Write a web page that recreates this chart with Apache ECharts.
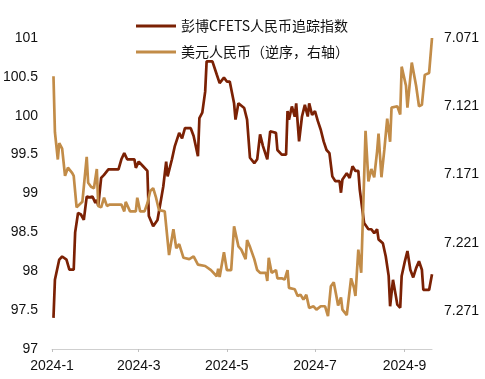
<!DOCTYPE html>
<html>
<head>
<meta charset="utf-8">
<script src="https://cdn.jsdelivr.net/npm/echarts@6/dist/echarts.min.js"></script>
<style>
html,body{margin:0;padding:0;background:#fff;}
#chart{width:485px;height:379px;}
</style>
</head>
<body>
<div id="chart"></div>
<script>
// Series names
var seriesNames = ['彭博CFETS人民币追踪指数', '美元人民币（逆序，右轴）'];

// 彭博CFETS人民币追踪指数 (left axis), [MM-DD, value], year 2024
var cfetsData = [
['01-02',97.40],['01-03',97.89],['01-06',98.15],['01-08',98.19],['01-11',98.15],['01-13',98.02],
['01-16',98.02],['01-17',98.50],['01-19',98.75],['01-21',98.73],['01-23',98.66],['01-25',98.96],
['01-27',98.95],['01-29',98.96],['01-31',98.88],['02-01',98.92],['02-02',98.84],['02-04',99.20],
['02-06',99.24],['02-09',99.31],['02-16',99.31],['02-18',99.44],['02-20',99.52],['02-22',99.44],
['02-27',99.44],['02-28',99.33],['03-01',99.41],['03-04',99.35],['03-07',99.29],['03-08',98.71],
['03-11',98.58],['03-12',98.58],['03-14',98.66],['03-18',99.09],['03-20',99.41],['03-21',99.22],
['03-24',99.44],['03-26',99.61],['03-29',99.78],['03-31',99.71],['04-02',99.84],['04-06',99.84],
['04-08',99.74],['04-11',99.48],['04-12',99.97],['04-14',100.04],['04-16',100.31],['04-17',100.70],
['04-18',100.72],['04-21',100.70],['04-22',100.70],['04-24',100.53],['04-26',100.42],['04-29',100.49],
['05-01',100.44],['05-03',100.44],['05-06',100.16],['05-07',99.95],['05-09',100.16],['05-13',100.10],
['05-15',99.95],['05-17',99.46],['05-20',99.39],['05-22',99.44],['05-24',99.76],['05-26',99.61],
['05-29',99.44],['05-31',99.80],['06-04',99.78],['06-05',99.56],['06-08',99.50],['06-11',99.50],
['06-12',100.06],['06-13',99.95],['06-15',100.12],['06-17',99.99],['06-18',100.16],['06-20',99.67],
['06-22',99.99],['06-24',100.14],['06-26',99.99],['06-27',100.16],['06-29',100.01],['07-01',100.06],
['07-03',99.93],['07-05',99.82],['07-07',99.67],['07-09',99.56],['07-11',99.52],['07-13',99.22],
['07-15',99.16],['07-18',99.16],['07-19',99.01],['07-20',99.18],['07-23',99.26],['07-25',99.20],
['07-27',99.35],['07-29',99.29],['07-31',99.29],['08-01',99.05],['08-04',98.62],['08-07',98.54],
['08-09',98.54],['08-11',98.49],['08-13',98.54],['08-14',98.41],['08-17',98.36],['08-19',98.19],
['08-21',97.94],['08-22',97.55],['08-24',97.89],['08-26',97.68],['08-27',97.57],['08-29',97.53],
['08-30',97.94],['09-01',98.11],['09-03',98.26],['09-05',98.02],['09-07',97.92],['09-09',98.04],
['09-11',98.13],['09-13',98.02],['09-14',97.76],['09-18',97.76],['09-19',97.74],['09-20',97.96]
];

// 美元人民币 (right axis, inverted), [MM-DD, value]
var usdData = [
['01-02',7.099],['01-03',7.140],['01-05',7.160],['01-06',7.148],['01-08',7.152],['01-10',7.172],
['01-12',7.166],['01-15',7.170],['01-16',7.172],['01-18',7.195],['01-20',7.193],['01-22',7.191],
['01-25',7.158],['01-26',7.177],['01-28',7.180],['01-30',7.181],['02-01',7.167],['02-02',7.194],
['02-04',7.195],['02-06',7.188],['02-08',7.194],['02-10',7.193],['02-18',7.193],['02-20',7.198],
['02-21',7.191],['02-24',7.198],['02-28',7.198],['02-29',7.188],['03-02',7.198],['03-05',7.198],
['03-07',7.192],['03-09',7.183],['03-11',7.181],['03-13',7.188],['03-15',7.197],['03-19',7.198],
['03-20',7.199],['03-22',7.230],['03-25',7.211],['03-27',7.225],['03-29',7.222],['04-01',7.232],
['04-05',7.233],['04-08',7.231],['04-11',7.237],['04-16',7.238],['04-20',7.241],['04-24',7.2455],
['04-25',7.240],['04-26',7.246],['04-29',7.228],['05-01',7.241],['05-04',7.241],['05-06',7.209],
['05-09',7.2236],['05-11',7.226],['05-14',7.233],['05-15',7.219],['05-17',7.224],['05-20',7.233],
['05-22',7.241],['05-24',7.243],['05-28',7.243],['05-29',7.249],['05-30',7.232],['06-01',7.243],
['06-04',7.241],['06-05',7.247],['06-08',7.247],['06-10',7.248],['06-12',7.241],['06-13',7.254],
['06-17',7.255],['06-19',7.260],['06-21',7.259],['06-23',7.2626],['06-25',7.259],['06-27',7.2687],
['06-30',7.2675],['07-02',7.270],['07-05',7.2675],['07-08',7.2675],['07-10',7.2748],['07-12',7.2528],
['07-14',7.250],['07-16',7.261],['07-17',7.267],['07-19',7.261],['07-20',7.270],['07-23',7.274],
['07-24',7.275],['07-26',7.247],['07-28',7.254],['07-29',7.260],['07-31',7.226],['08-02',7.243],
['08-05',7.139],['08-07',7.176],['08-09',7.167],['08-11',7.173],['08-13',7.154],['08-14',7.141],
['08-16',7.173],['08-18',7.153],['08-20',7.130],['08-22',7.147],['08-23',7.122],['08-27',7.121],
['08-29',7.127],['08-30',7.092],['09-02',7.106],['09-03',7.122],['09-06',7.089],['09-09',7.106],
['09-11',7.121],['09-13',7.120],['09-15',7.098],['09-18',7.0966],['09-20',7.071]
];

// X axis label positions (month starts)
var xTickDates = ['01-01','03-01','05-01','07-01','09-01'];
var xRange = ['01-01','09-20'];
var leftAxisRange = [97, 101, 0.5];
var rightAxisRange = [7.071, 7.2988, 0.05];

function ts(md){ var p = md.split('-'); return Date.UTC(2024, +p[0]-1, +p[1]); }
function toSeries(arr){ return arr.map(function(d){ return [ts(d[0]), d[1]]; }); }

var chart = echarts.init(document.getElementById('chart'));
var labelFont = 'Liberation Sans, Arial, sans-serif';
var tickTs = xTickDates.map(ts);

chart.setOption({
  animation: false,
  backgroundColor: '#fff',
  grid: { left: 52, right: 53, top: 38, bottom: 30, containLabel: false },
  legend: {
    orient: 'vertical', left: 131, top: 14,
    itemWidth: 40, itemHeight: 3, itemGap: 12, icon: 'rect',
    textStyle: { fontFamily: 'Noto Sans CJK SC', fontSize: 14, color: '#111', lineHeight: 14 },
    data: seriesNames
  },
  xAxis: {
    type: 'value',
    min: ts(xRange[0]), max: ts(xRange[1]),
    splitLine: { show: false },
    axisLine: { show: true, lineStyle: { color: '#cfcfcf', width: 1 } },
    axisTick: { show: true, length: 3, lineStyle: { color: '#bfbfbf' }, customValues: tickTs },
    axisLabel: {
      customValues: tickTs,
      margin: 10,
      fontFamily: labelFont, fontSize: 14, color: '#111',
      formatter: function(v){ var d = new Date(v); return d.getUTCFullYear() + '-' + (d.getUTCMonth()+1); }
    }
  },
  yAxis: [
    {
      type: 'value', min: leftAxisRange[0], max: leftAxisRange[1], interval: leftAxisRange[2],
      splitLine: { show: false }, axisLine: { show: false }, axisTick: { show: false },
      axisLabel: { margin: 14, fontFamily: labelFont, fontSize: 14, color: '#111' }
    },
    {
      type: 'value', inverse: true,
      min: rightAxisRange[0], max: rightAxisRange[1], interval: rightAxisRange[2],
      splitLine: { show: false }, axisLine: { show: false }, axisTick: { show: false },
      axisLabel: {
        margin: 12, showMaxLabel: false, fontFamily: labelFont, fontSize: 14, color: '#111',
        formatter: function(v){ return v.toFixed(3); }
      }
    }
  ],
  series: [
    {
      name: seriesNames[0], type: 'line', yAxisIndex: 0, showSymbol: false, symbol: 'none',
      color: '#7B2104', lineStyle: { width: 2.7, color: '#7B2104' },
      data: toSeries(cfetsData)
    },
    {
      name: seriesNames[1], type: 'line', yAxisIndex: 1, showSymbol: false, symbol: 'none',
      color: '#C28C48', lineStyle: { width: 2.7, color: '#C28C48' },
      data: toSeries(usdData)
    }
  ]
});
</script>
</body>
</html>
